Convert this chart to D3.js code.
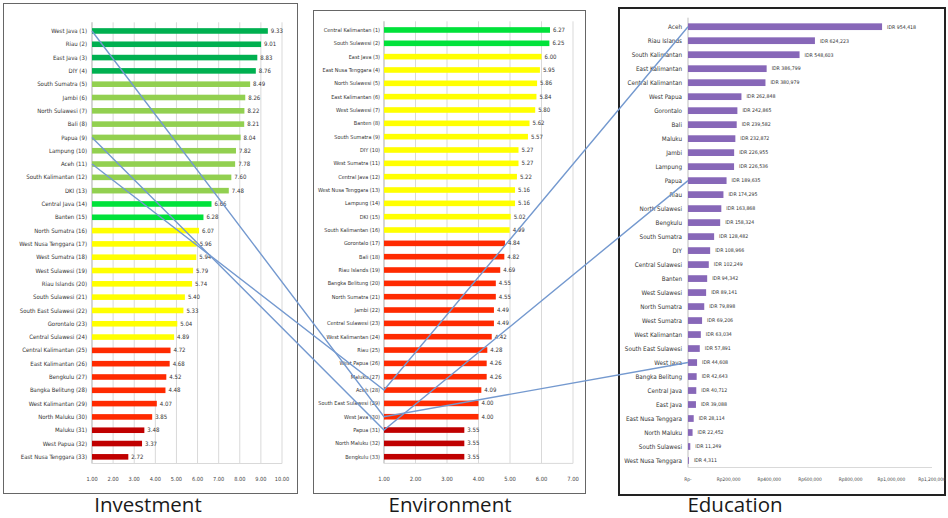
<!DOCTYPE html>
<html>
<head>
<meta charset="utf-8">
<script src="https://cdn.jsdelivr.net/npm/d3@7"></script>
<style>
  body { margin: 0; background: #fff; }
  svg { display: block; }
  .lbl { font-family: "Liberation Sans Narrow", "DejaVu Sans Condensed", sans-serif; fill: #333; }
  .tick-lbl { font-family: "Liberation Sans Narrow", "DejaVu Sans Condensed", sans-serif; fill: #444; }
  .title { font-family: "Open Sans", "Liberation Sans", sans-serif; font-size: 20.5px; fill: #1a1a1a; }
</style>
</head>
<body>
<svg id="chart" width="948" height="518"></svg>
<script>
// ---- data ----
const investNames = ["West Java", "Riau", "East Java", "DIY", "South Sumatra", "Jambi", "North Sulawesi", "Bali",
  "Papua", "Lampung", "Aceh", "South Kalimantan", "DKI", "Central Java", "Banten", "North Sumatra",
  "West Nusa Tenggara", "West Sumatra", "West Sulawesi", "Riau Islands", "South Sulawesi", "South East Sulawesi",
  "Gorontalo", "Central Sulawesi", "Central Kalimantan", "East Kalimantan", "Bengkulu", "Bangka Belitung",
  "West Kalimantan", "North Maluku", "Maluku", "West Papua", "East Nusa Tenggara"];
const investValues = [9.33, 9.01, 8.83, 8.76, 8.49, 8.26, 8.22, 8.21, 8.04, 7.82, 7.78, 7.60, 7.48, 6.66, 6.28, 6.07,
  5.96, 5.94, 5.79, 5.74, 5.40, 5.33, 5.04, 4.89, 4.72, 4.68, 4.52, 4.48, 4.07, 3.85, 3.48, 3.37, 2.72];
const investGroup = ["top", "top", "top", "top", "high", "high", "high", "high", "high", "high", "high", "high", "high",
  "good", "good", "mid", "mid", "mid", "mid", "mid", "mid", "mid", "mid", "mid",
  "low", "low", "low", "low", "low", "low", "bottom", "bottom", "bottom"];

const envNames = ["Central Kalimantan", "South Sulawesi", "East Java", "East Nusa Tenggara", "North Sulawesi",
  "East Kalimantan", "West Sulawesi", "Banten", "South Sumatra", "DIY", "West Sumatra", "Central Java",
  "West Nusa Tenggara", "Lampung", "DKI", "South Kalimantan", "Gorontalo", "Bali", "Riau Islands",
  "Bangka Belitung", "North Sumatra", "Jambi", "Central Sulawesi", "West Kalimantan", "Riau", "West Papua",
  "Maluku", "Aceh", "South East Sulawesi", "West Java", "Papua", "North Maluku", "Bengkulu"];
const envValues = [6.27, 6.25, 6.00, 5.95, 5.86, 5.84, 5.80, 5.62, 5.57, 5.27, 5.27, 5.22, 5.16, 5.16, 5.02, 4.99,
  4.84, 4.82, 4.69, 4.55, 4.55, 4.49, 4.49, 4.42, 4.28, 4.26, 4.26, 4.09, 4.00, 4.00, 3.55, 3.55, 3.55];
const envGroup = ["good", "good", "mid", "mid", "mid", "mid", "mid", "mid", "mid", "mid", "mid", "mid", "mid", "mid",
  "mid", "mid", "low", "low", "low", "low", "low", "low", "low", "low", "low", "low", "low", "low", "low", "low",
  "bottom", "bottom", "bottom"];

const eduNames = ["Aceh", "Riau Islands", "South Kalimantan", "East Kalimantan", "Central Kalimantan", "West Papua",
  "Gorontalo", "Bali", "Maluku", "Jambi", "Lampung", "Papua", "Riau", "North Sulawesi", "Bengkulu",
  "South Sumatra", "DIY", "Central Sulawesi", "Banten", "West Sulawesi", "North Sumatra", "West Sumatra",
  "West Kalimantan", "South East Sulawesi", "West Java", "Bangka Belitung", "Central Java", "East Java",
  "East Nusa Tenggara", "North Maluku", "South Sulawesi", "West Nusa Tenggara"];
const eduValues = [954418, 624223, 548603, 386799, 380979, 262848, 242865, 239582, 232872, 226955, 226536, 189635,
  174295, 163868, 158324, 128482, 108966, 102249, 94342, 89141, 79898, 69206, 63034, 57891, 44608, 42643,
  40712, 39088, 28114, 22452, 11249, 4311];
const eduTicks = [0, 200000, 400000, 600000, 800000, 1000000, 1200000];

const linkedProvinces = ["West Java", "Papua", "Aceh"];
const titles = ["Investment", "Environment", "Education"];

// ---- styles ----
const groupColor = {
  top: "#00b050", high: "#92d050", good: "#00e23a", mid: "#ffff00", low: "#ff2a00", bottom: "#c00000"
};
const gridColor = "#d9d9d9";

const svg = d3.select("#chart");

// panel frames
svg.append("rect").attr("x", 3.5).attr("y", 3.5).attr("width", 294).attr("height", 490)
  .attr("fill", "none").attr("stroke", "#666");
svg.append("rect").attr("x", 313.5).attr("y", 10.5).attr("width", 272).attr("height", 483)
  .attr("fill", "none").attr("stroke", "#666");
svg.append("rect").attr("x", 619).attr("y", 8).attr("width", 326).attr("height", 487)
  .attr("fill", "none").attr("stroke", "#222").attr("stroke-width", 2);

function drawPanel(opt) {
  const g = svg.append("g");
  const x = d3.scaleLinear().domain(opt.domain).range(opt.xRange);
  const y = d3.scaleBand().domain(opt.names).range(opt.yRange).paddingInner(opt.pad).paddingOuter(opt.pad / 2);
  const axisY = opt.yRange[1];

  if (opt.grid) {
    g.selectAll(".grid").data(opt.ticks).enter().append("line")
      .attr("x1", d => x(d)).attr("x2", d => x(d))
      .attr("y1", opt.yRange[0] - 2).attr("y2", axisY)
      .attr("stroke", gridColor).attr("stroke-width", 1);
  }
  // axes lines
  g.append("line").attr("x1", x(opt.domain[0])).attr("x2", x(opt.domain[0]))
    .attr("y1", opt.yRange[0] - 2).attr("y2", axisY).attr("stroke", "#bfbfbf");
  g.append("line").attr("x1", x(opt.domain[0])).attr("x2", x(opt.domain[1]))
    .attr("y1", axisY).attr("y2", axisY).attr("stroke", gridColor);

  g.selectAll(".bar").data(opt.values).enter().append("rect")
    .attr("x", x(opt.domain[0]))
    .attr("y", (d, i) => y(opt.names[i]))
    .attr("width", d => x(d) - x(opt.domain[0]))
    .attr("height", y.bandwidth())
    .attr("fill", (d, i) => opt.color(i));

  g.selectAll(".name").data(opt.names).enter().append("text")
    .attr("class", "lbl")
    .attr("font-size", opt.nameSize)
    .attr("x", x(opt.domain[0]) - opt.labelGap)
    .attr("y", d => y(d) + y.bandwidth() / 2)
    .attr("dy", "0.35em")
    .attr("text-anchor", "end")
    .text((d, i) => opt.nameFormat(d, i));

  g.selectAll(".val").data(opt.values).enter().append("text")
    .attr("class", "lbl")
    .attr("font-size", opt.valueSize)
    .attr("x", d => x(d) + opt.valueGap)
    .attr("y", (d, i) => y(opt.names[i]) + y.bandwidth() / 2)
    .attr("dy", "0.35em")
    .text(d => opt.valueFormat(d));

  g.selectAll(".tick-lbl").data(opt.ticks).enter().append("text")
    .attr("class", "tick-lbl")
    .attr("font-size", opt.tickSize)
    .attr("x", d => x(d))
    .attr("y", 481)
    .attr("text-anchor", "middle")
    .text(d => opt.tickFormat(d));

  return { x, y, anchor: name => [x(opt.domain[0]), y(name) + y.bandwidth() / 2] };
}

const inv = drawPanel({
  names: investNames, values: investValues, domain: [1, 10], ticks: d3.range(1, 11),
  xRange: [92, 282], yRange: [24.3, 463.5], grid: true, labelGap: 5, valueGap: 3, pad: 0.58,
  nameSize: 6, valueSize: 6, tickSize: 5.6,
  color: i => groupColor[investGroup[i]],
  nameFormat: (d, i) => `${d} (${i + 1})`, valueFormat: d3.format(".2f"), tickFormat: d3.format(".2f")
});

const env = drawPanel({
  names: envNames, values: envValues, domain: [1, 7], ticks: d3.range(1, 8),
  xRange: [384, 573], yRange: [23.3, 463.4], grid: true, labelGap: 4, valueGap: 3, pad: 0.58,
  nameSize: 5.5, valueSize: 6, tickSize: 5.8,
  color: i => groupColor[envGroup[i]],
  nameFormat: (d, i) => `${d} (${i + 1})`, valueFormat: d3.format(".2f"), tickFormat: d3.format(".2f")
});

const fmtIdr = d3.format(",");
const edu = drawPanel({
  names: eduNames, values: eduValues, domain: [0, 1200000], ticks: eduTicks,
  xRange: [688, 932], yRange: [19.7, 467.5], grid: false, labelGap: 6, valueGap: 5, pad: 0.52,
  nameSize: 6.3, valueSize: 5.2, tickSize: 4.8,
  color: () => "#8767b8",
  nameFormat: d => d, valueFormat: d => "IDR " + fmtIdr(d),
  tickFormat: d => d === 0 ? "Rp-" : "Rp" + fmtIdr(d)
});

// connector lines between panels
linkedProvinces.forEach(p => {
  const a = inv.anchor(p), b = env.anchor(p), c = edu.anchor(p);
  svg.append("polyline")
    .attr("points", [a, b, c].map(pt => pt.join(",")).join(" "))
    .attr("fill", "none")
    .attr("stroke", "#7499cf")
    .attr("stroke-width", 1.4);
});

// panel titles
const titleX = [148, 450, 735];
svg.selectAll(".title").data(titles).enter().append("text")
  .attr("class", "title")
  .attr("x", (d, i) => titleX[i])
  .attr("y", 512)
  .attr("text-anchor", "middle")
  .text(d => d);
</script>
</body>
</html>
